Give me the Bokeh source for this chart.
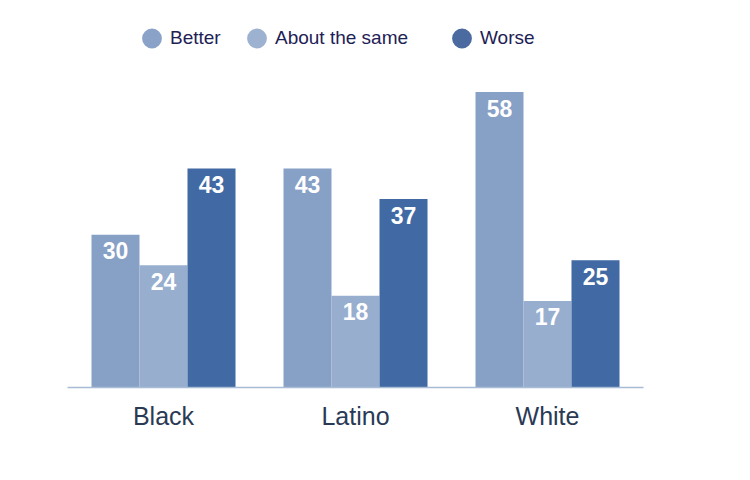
from bokeh.plotting import figure
from bokeh.models import (ColumnDataSource, FactorRange, Range1d, Legend, LegendItem)
from bokeh.transform import dodge
from bokeh.core.properties import value
from bokeh.embed import file_html
from bokeh.resources import INLINE

categories = ["Black", "Latino", "White"]
better = [30, 43, 58]
same = [24, 18, 17]
worse = [43, 37, 25]
series_names = ["Better", "About the same", "Worse"]

colors = ["#87a0c6", "#97aecf", "#4169a3"]
legend_colors = ["#8aa2c7", "#9db1d0", "#4a6aa0"]
FONT = "Liberation Sans"

src = ColumnDataSource(data=dict(
    cat=categories,
    better=better, same=same, worse=worse,
    better_t=[str(v) for v in better],
    same_t=[str(v) for v in same],
    worse_t=[str(v) for v in worse],
))

p = figure(width=730, height=460, output_backend="svg", toolbar_location=None,
           x_range=FactorRange(*categories), y_range=Range1d(0, 74),
           min_border_left=67, min_border_right=87, min_border_top=10,
           min_border_bottom=73)
p.outline_line_color = None
p.grid.visible = False
p.yaxis.visible = False
p.background_fill_color = None

cols = ["better", "same", "worse"]
offsets = [-0.25, 0.0, 0.25]
for c, off, col in zip(cols, offsets, colors):
    p.vbar(x=dodge("cat", off, range=p.x_range), top=c, width=0.25, source=src,
           fill_color=col, line_color=None)
    p.text(x=dodge("cat", off, range=p.x_range), y=c, text=c + "_t", source=src,
           text_color="white", text_font=value(FONT), text_font_style="bold",
           text_font_size="23px", text_align="center", text_baseline="middle",
           y_offset=16)

ax = p.xaxis[0]
ax.axis_line_color = "#a9bcd6"
ax.axis_line_width = 1.5
ax.major_tick_line_color = None
ax.minor_tick_line_color = None
ax.major_tick_out = 0
ax.major_label_text_font = FONT
ax.major_label_text_font_size = "25px"
ax.major_label_text_color = "#2a3a55"
ax.major_label_standoff = 14

# legend
nan = float("nan")
legend_x = [66, 171, 376]
for name, col, lx in zip(series_names, legend_colors, legend_x):
    r = p.scatter(x=[nan], y=[nan], marker="circle", fill_color=col,
                  line_color=col, line_width=5)
    lg = Legend(items=[LegendItem(label=name, renderers=[r])],
                location=(lx, 324), orientation="horizontal",
                glyph_width=37, glyph_height=50, label_standoff=0,
                padding=0, margin=0, spacing=0,
                border_line_color=None, background_fill_alpha=0,
                label_text_font=FONT, label_text_font_size="19px",
                label_text_color="#1e2156")
    p.add_layout(lg, "center")

open("out.html", "w").write(file_html(p, INLINE))
